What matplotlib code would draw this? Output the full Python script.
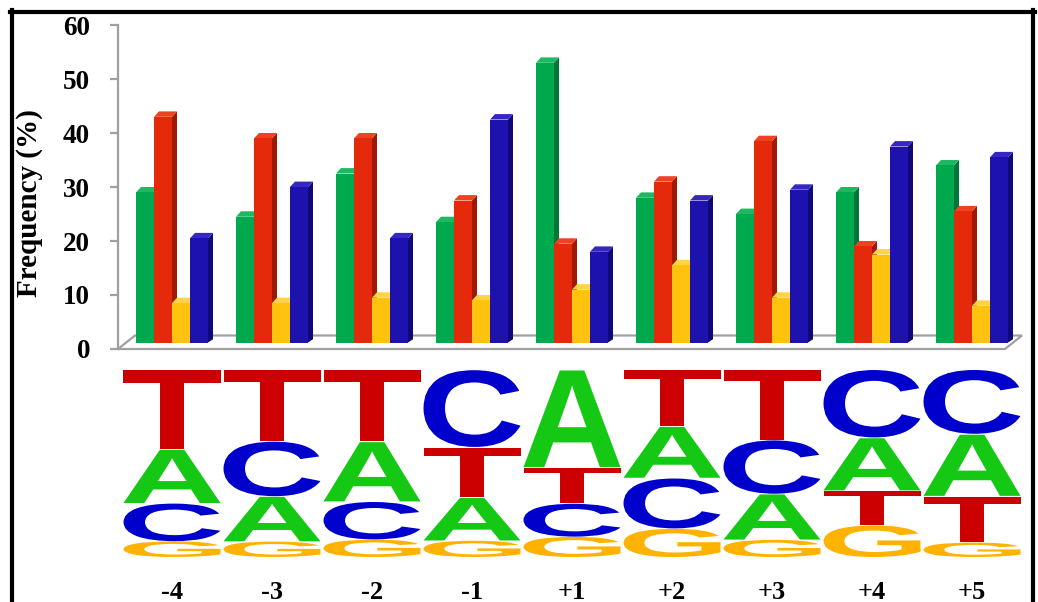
import matplotlib
matplotlib.use("Agg")
import matplotlib.pyplot as plt
from matplotlib.patches import Polygon, PathPatch
from matplotlib.textpath import TextPath
from matplotlib.font_manager import FontProperties
from matplotlib.transforms import Affine2D
from matplotlib.lines import Line2D

# ---------------- data ----------------
positions = ["-4", "-3", "-2", "-1", "+1", "+2", "+3", "+4", "+5"]
freq_A = [29, 24.5, 32.5, 23.5, 53, 28, 25, 29, 34]
freq_T = [43, 39, 39, 27.5, 19.5, 31, 38.5, 19, 25.5]
freq_G = [8.5, 8.5, 9.5, 9, 11, 15.5, 9.5, 17.5, 8]
freq_C = [20.5, 30, 20.5, 42.5, 18, 27.5, 29.5, 37.5, 35.5]
y_ticks = [0, 10, 20, 30, 40, 50, 60]

# ---------------- styles ----------------
bar_front = {"A": "#00A84E", "T": "#E42A0A", "G": "#FFC20E", "C": "#1E12AE"}
bar_side = {"A": "#00773A", "T": "#9E1A04", "G": "#D49B00", "C": "#100879"}
bar_cap = {"A": "#1DB861", "T": "#EE4222", "G": "#FFD347", "C": "#3626C4"}
logo_col = {"A": "#14C814", "T": "#CC0000", "G": "#FFB300", "C": "#0000CC"}

W, H = 1038, 602
fig = plt.figure(figsize=(W / 100, H / 100), dpi=100)
fig.patch.set_facecolor("white")

serif_b = dict(family="Liberation Serif", weight="bold")

# ---------------- bar chart ----------------
px_left, px_right, px_top, px_bot = 118, 1038, 25, 349
ax = fig.add_axes([px_left / W, (H - px_bot) / H, (px_right - px_left) / W, (px_bot - px_top) / H])
x0 = (px_left - 172) / 100.0
ax.set_xlim(x0, x0 + (px_right - px_left) / 100.0)
ax.set_ylim(0, 60)
for s in ["top", "right", "bottom"]:
    ax.spines[s].set_visible(False)
ax.spines["left"].set_color("#A0A0A0")
ax.spines["left"].set_linewidth(1.6)
ax.set_xticks([])
ax.set_yticks(y_ticks)
ax.set_yticklabels([str(t) for t in y_ticks], fontsize=19.5, **serif_b)
ax.tick_params(axis="y", length=6, width=1.6, color="#A0A0A0", pad=14)
ax.set_ylabel("Frequency (%)", fontsize=21, **serif_b)
ax.yaxis.set_label_coords(-0.082, 0.45)
ax.patch.set_alpha(0)

# floor (thin 3D base)
fdx, fdy = 0.17, 2.5
floor = Polygon([[x0, 0], [8.33, 0], [8.33 + fdx, fdy], [x0 + fdx, fdy]], closed=True,
                facecolor="white", edgecolor="#A0A0A0", linewidth=1.6, clip_on=False, zorder=1)
ax.add_patch(floor)

bw = 0.18
offs = [-0.27, -0.09, 0.09, 0.27]
ddx, ddy = 0.05, 1.0
base = 1.2
series = [("A", freq_A), ("T", freq_T), ("G", freq_G), ("C", freq_C)]
z = 2
for i in range(len(positions)):
    for k, (nt, vals) in enumerate(series):
        v = vals[i]
        xc = i + offs[k]
        xl, xr = xc - bw / 2, xc + bw / 2
        side = Polygon([[xr, base], [xr + ddx, base + ddy * 0.6], [xr + ddx, v + ddy], [xr, v]],
                       closed=True, facecolor=bar_side[nt], edgecolor="none", clip_on=False, zorder=z)
        cap = Polygon([[xl, v], [xl + ddx, v + ddy], [xr + ddx, v + ddy], [xr, v]],
                      closed=True, facecolor=bar_cap[nt], edgecolor="none", clip_on=False, zorder=z)
        ax.add_patch(side)
        ax.add_patch(cap)
        ax.bar(xc, v - base, bottom=base, width=bw, color=bar_front[nt], linewidth=0,
               zorder=z + 0.5, clip_on=False)
        z += 1

# ---------------- sequence logo ----------------
lg_top, lg_bot = 369, 557
axl = fig.add_axes([px_left / W, (H - lg_bot) / H, (px_right - px_left) / W, (lg_bot - lg_top) / H])
axl.set_xlim(ax.get_xlim())
axl.set_ylim(0, 100)
for s in axl.spines.values():
    s.set_visible(False)
axl.set_yticks([])
axl.set_xticks(range(len(positions)))
axl.set_xticklabels(positions, fontsize=19, **serif_b)
axl.tick_params(axis="x", length=0, pad=17)
axl.patch.set_alpha(0)

fp = FontProperties(family="Liberation Sans", weight="bold")
glyphs = {nt: TextPath((0, 0), nt, size=1, prop=fp) for nt in "ATGC"}

lw = 0.97
for i in range(len(positions)):
    col = {"A": freq_A[i], "T": freq_T[i], "G": freq_G[i], "C": freq_C[i]}
    tot = sum(col.values())
    order = sorted(col.keys(), key=lambda n: col[n])  # smallest at bottom
    y = 0.0
    for nt in order:
        h = col[nt] / tot * 100.0
        tp = glyphs[nt]
        bb = tp.get_extents()
        tr = (Affine2D().translate(-bb.x0, -bb.y0)
              .scale(lw / bb.width, h * 0.985 / bb.height)
              .translate(i - lw / 2, y))
        path = tr.transform_path(tp)
        axl.add_patch(PathPatch(path, facecolor=logo_col[nt], edgecolor="none", clip_on=False))
        y += h

# ---------------- frame ----------------
axf = fig.add_axes([0, 0, 1, 1], zorder=-1)
axf.set_xlim(0, W)
axf.set_ylim(H, 0)
axf.axis("off")
axf.add_line(Line2D([10, 1035], [12, 12], color="black", linewidth=3.0))
axf.add_line(Line2D([12, 12], [10, H], color="black", linewidth=3.0))
axf.add_line(Line2D([1033, 1033], [10, H], color="black", linewidth=3.0))

fig.savefig("out.png", dpi=100)
